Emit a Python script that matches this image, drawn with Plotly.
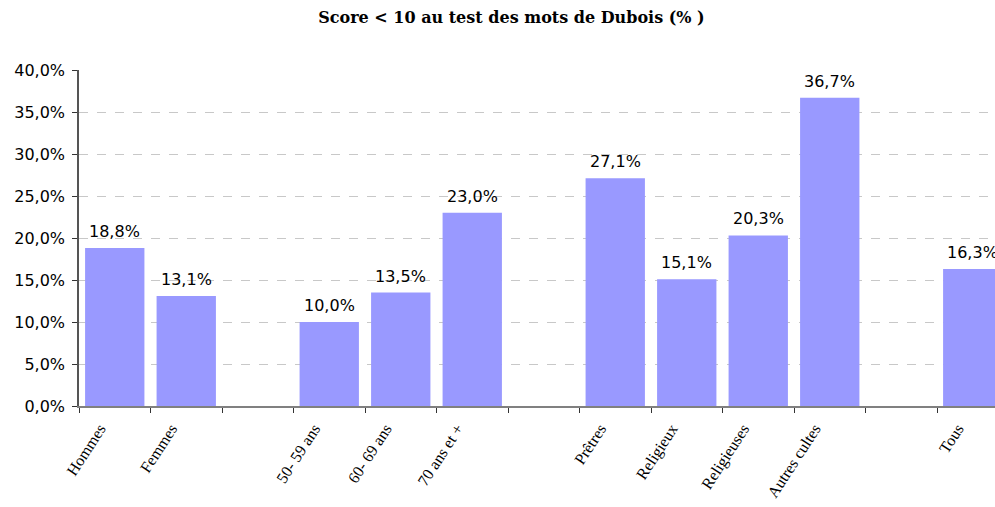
import plotly.graph_objects as go

# Category slots; blank entries leave gaps between groups
categories = ["Hommes", "Femmes", " ", "50- 59 ans", "60- 69 ans", "70 ans et +", "  ",
              "Prêtres", "Religieux", "Religieuses", "Autres cultes", "   ", "Tous"]
# Share of scores below 10 (fraction); None for gap slots
values = [0.188, 0.131, None, 0.100, 0.135, 0.230, None,
          0.271, 0.151, 0.203, 0.367, None, 0.163]

y_ticks = [0.0, 0.05, 0.10, 0.15, 0.20, 0.25, 0.30, 0.35, 0.40]

NUM_FONT = "DejaVu Sans, Arial"
fig = go.Figure(
    go.Bar(
        x=categories,
        y=values,
        marker=dict(color="#9999FF", line=dict(width=0)),
        cliponaxis=False,
    )
)

# Value labels above each bar
for cat, val in zip(categories, values):
    if val is None:
        continue
    fig.add_annotation(
        x=cat, y=val,
        text=f"{val * 100:.1f}%".replace(".", ","),
        showarrow=False,
        yanchor="bottom",
        yshift=5,
        font=dict(family=NUM_FONT, size=16, color="#000000"),
    )

fig.update_layout(
    width=995,
    height=507,
    margin=dict(l=79, r=0, t=70, b=101),
    paper_bgcolor="white",
    plot_bgcolor="white",
    separators=", ",
    bargap=0.17,
    showlegend=False,
    title=dict(
        text="<b>Score &lt; 10 au test des mots de Dubois (% )</b>",
        font=dict(family="DejaVu Serif, Liberation Serif", size=16, color="#000000"),
        x=0.514,
        xref="container",
        xanchor="center",
        y=0.965,
        yref="container",
        yanchor="middle",
    ),
)

fig.update_xaxes(
    type="category",
    range=[-0.5, -0.5 + (995 - 79) / 71.5],
    tickson="boundaries",
    ticks="outside",
    ticklen=5,
    tickcolor="#333333",
    tickangle=-57,
    ticklabelshift=-15,
    ticklabelstandoff=5,
    tickfont=dict(family="Liberation Serif, Times New Roman", size=16, color="#000000"),
    showline=True,
    linecolor="#808080",
    linewidth=2,
    showgrid=False,
)

fig.update_yaxes(
    range=[0, 0.4],
    tickvals=y_ticks,
    tickformat=".1%",
    ticks="outside",
    ticklen=5,
    tickcolor="#333333",
    ticklabelstandoff=4,
    tickfont=dict(family=NUM_FONT, size=16, color="#000000"),
    showline=True,
    linecolor="#555555",
    linewidth=1.5,
    showgrid=True,
    gridcolor="#C8C8C8",
    griddash="dash",
    gridwidth=1,
    zeroline=False,
)

fig.write_html("out.html")
